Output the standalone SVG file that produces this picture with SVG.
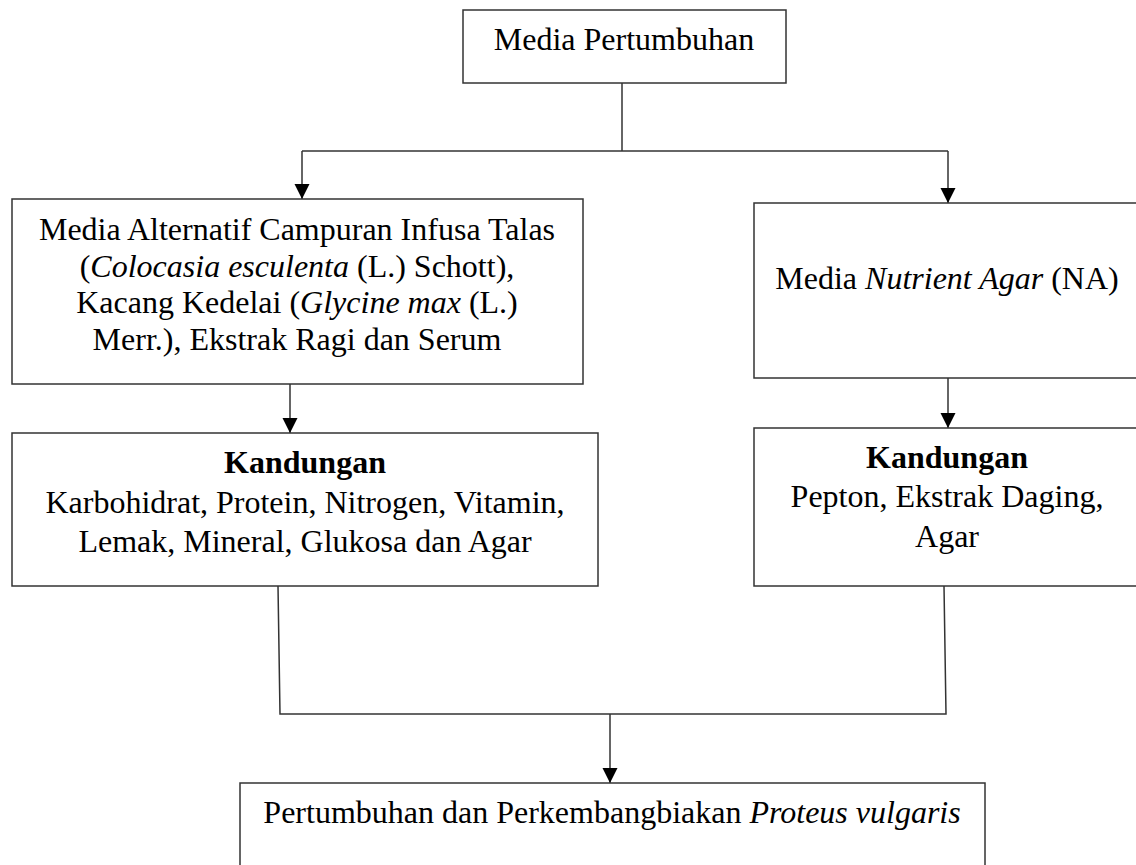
<svg xmlns="http://www.w3.org/2000/svg" width="1136" height="865" viewBox="0 0 1136 865">
<defs>
<style>
.box{fill:#fff;stroke:#333;stroke-width:1.5}
.ln{fill:none;stroke:#333;stroke-width:1.5}
text{font-family:"Liberation Serif","Times New Roman",serif;font-size:32px;fill:#000;text-anchor:middle}
.i{font-style:italic}
.b{font-weight:bold}
</style>
<marker id="ah" markerUnits="userSpaceOnUse" markerWidth="16" markerHeight="16" refX="15" refY="7.5" orient="auto">
<path d="M0,0 L15,7.5 L0,15 z" fill="#000"/>
</marker>
</defs>
<rect width="1136" height="865" fill="#fff"/>
<g id="connectors">
<path class="ln" d="M622,83 V151"/>
<path class="ln" d="M302,151 H948"/>
<path class="ln" d="M302,151 V199" marker-end="url(#ah)"/>
<path class="ln" d="M948,151 V203" marker-end="url(#ah)"/>
<path class="ln" d="M290,384 V433" marker-end="url(#ah)"/>
<path class="ln" d="M948,378 V428" marker-end="url(#ah)"/>
<path class="ln" d="M278,586 L280,714 H946 L944,586"/>
<path class="ln" d="M610,714 V783" marker-end="url(#ah)"/>
</g>
<g id="top">
<rect class="box" x="463" y="10" width="323" height="73"/>
<text x="624" y="50">Media Pertumbuhan</text>
</g>
<g id="alt">
<rect class="box" x="12" y="199" width="571" height="185"/>
<text x="297" y="240">Media Alternatif Campuran Infusa Talas</text>
<text x="297" y="277">(<tspan class="i">Colocasia esculenta</tspan> (L.) Schott),</text>
<text x="297" y="313">Kacang Kedelai (<tspan class="i">Glycine max</tspan> (L.)</text>
<text x="297" y="350">Merr.), Ekstrak Ragi dan Serum</text>
</g>
<g id="na">
<rect class="box" x="754" y="203" width="390" height="175"/>
<text x="947" y="289">Media <tspan class="i">Nutrient Agar</tspan> (NA)</text>
</g>
<g id="kand-left">
<rect class="box" x="12" y="433" width="586" height="153"/>
<text class="b" x="305" y="473">Kandungan</text>
<text x="305" y="513">Karbohidrat, Protein, Nitrogen, Vitamin,</text>
<text x="305" y="552">Lemak, Mineral, Glukosa dan Agar</text>
</g>
<g id="kand-right">
<rect class="box" x="754" y="428" width="390" height="158"/>
<text class="b" x="947" y="468">Kandungan</text>
<text x="947" y="507">Pepton, Ekstrak Daging,</text>
<text x="947" y="547">Agar</text>
</g>
<g id="result">
<rect class="box" x="240" y="783" width="745" height="100"/>
<text x="612" y="823">Pertumbuhan dan Perkembangbiakan <tspan class="i">Proteus vulgaris</tspan></text>
</g>
</svg>
